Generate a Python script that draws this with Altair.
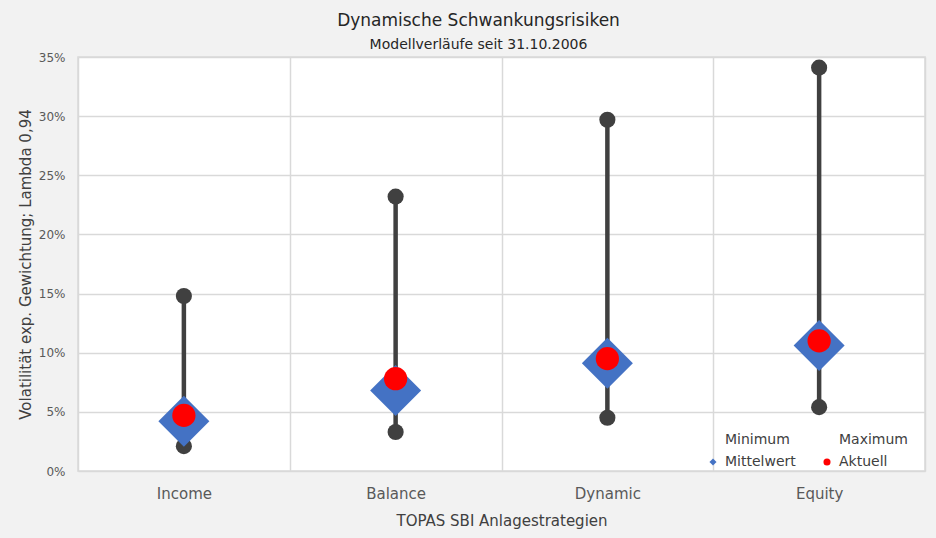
import altair as alt
import pandas as pd

# Volatility ranges per TOPAS SBI strategy (exp. weighting, lambda 0.94)
categories = ["Income", "Balance", "Dynamic", "Equity"]
minimum = [0.021, 0.033, 0.045, 0.054]
maximum = [0.148, 0.232, 0.297, 0.341]
mittelwert = [0.042, 0.068, 0.091, 0.106]
aktuell = [0.047, 0.078, 0.095, 0.110]

series_names = ["Minimum", "Maximum", "Mittelwert", "Aktuell"]
y_ticks = [0, 0.05, 0.10, 0.15, 0.20, 0.25, 0.30, 0.35]

wide = pd.DataFrame({
    "Strategie": categories,
    "Minimum": minimum,
    "Maximum": maximum,
    "Mittelwert": mittelwert,
    "Aktuell": aktuell,
})
long = wide.melt(id_vars="Strategie", var_name="Serie", value_name="Wert")

FONT = "DejaVu Sans"
DARK = "#404040"

x_enc = alt.X(
    "Strategie:N",
    sort=categories,
    scale=alt.Scale(paddingInner=0, paddingOuter=0),
    axis=alt.Axis(
        title="TOPAS SBI Anlagestrategien",
        labelAngle=0,
        tickBand="extent",
        grid=True,
        ticks=False,
        domain=False,
        labelPadding=15,
        titlePadding=12,
    ),
)
y_scale = alt.Scale(domain=[0, 0.35], nice=False)
y_axis = alt.Axis(
    title="Volatilität exp. Gewichtung; Lambda 0,94",
    values=y_ticks,
    format=".0%",
    grid=True,
    ticks=False,
    domain=False,
    labelPadding=13,
    titlePadding=5,
)

base = alt.Chart(wide).encode(x=x_enc)

# high-low line from minimum to maximum
rule = base.mark_rule(color=DARK, strokeWidth=4.5).encode(
    y=alt.Y("Minimum:Q", scale=y_scale, axis=y_axis),
    y2="Maximum:Q",
)

# end points of the range
ends = (
    alt.Chart(long)
    .transform_filter(alt.FieldOneOfPredicate(field="Serie", oneOf=["Minimum", "Maximum"]))
    .mark_point(filled=True, shape="circle", size=260, color=DARK, opacity=1)
    .encode(x=x_enc, y=alt.Y("Wert:Q", scale=y_scale, axis=y_axis))
)

legend = alt.Legend(
    title=None,
    orient="none",
    legendX=628,
    legendY=376,
    direction="horizontal",
    columns=2,
    columnPadding=24,
    rowPadding=8,
    labelFontSize=14,
    labelOffset=5,
    symbolSize=50,
    symbolStrokeWidth=0,
    labelColor="#404040",
    labelFont=FONT,
)
color_enc = alt.Color(
    "Serie:N",
    scale=alt.Scale(domain=series_names, range=["transparent", "transparent", "#4472C4", "#FF0000"]),
    legend=legend,
)
shape_enc = alt.Shape(
    "Serie:N",
    scale=alt.Scale(domain=series_names, range=["circle", "circle", "diamond", "circle"]),
    legend=legend,
)

mean_pts = (
    alt.Chart(long)
    .transform_filter(alt.datum.Serie == "Mittelwert")
    .mark_point(filled=True, size=2600, opacity=1)
    .encode(x=x_enc, y=alt.Y("Wert:Q", scale=y_scale, axis=y_axis), color=color_enc, shape=shape_enc)
)

current_pts = (
    alt.Chart(long)
    .transform_filter(alt.datum.Serie == "Aktuell")
    .mark_point(filled=True, size=540, opacity=1)
    .encode(x=x_enc, y=alt.Y("Wert:Q", scale=y_scale, axis=y_axis), color=color_enc, shape=shape_enc)
)

chart = (
    alt.layer(rule, ends, mean_pts, current_pts)
    .properties(
        width=847,
        height=414,
        autosize=alt.AutoSizeParams(type="none"),
        padding={"left": 78, "top": 57, "right": 11, "bottom": 67},
        background="#f2f2f2",
        title=alt.TitleParams(
            text="Dynamische Schwankungsrisiken",
            subtitle="Modellverläufe seit 31.10.2006",
            anchor="middle",
            dx=-23,
            dy=4,
            offset=2,
            fontSize=17,
            fontWeight="normal",
            subtitleFontSize=14,
            subtitlePadding=8,
            font=FONT,
            subtitleFont=FONT,
            color="#262626",
            subtitleColor="#262626",
        ),
    )
    .configure_view(fill="white", stroke="#d9d9d9", strokeWidth=1.5)
    .configure_axis(
        gridColor="#d9d9d9",
        gridWidth=1.5,
        labelFont=FONT,
        titleFont=FONT,
        labelColor="#595959",
        titleColor="#404040",
        titleFontWeight="normal",
        titleFontSize=15,
    )
    .configure_axisX(labelFontSize=15)
    .configure_axisY(labelFontSize=12)
)

chart.save("out.html", embed_options={"renderer": "svg", "actions": False})
